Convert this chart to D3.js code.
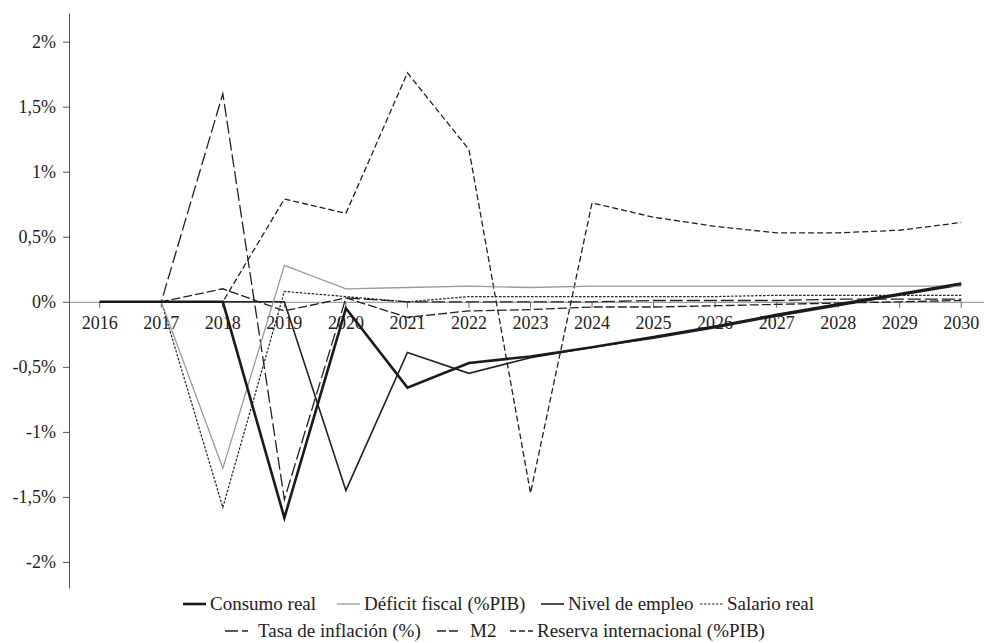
<!DOCTYPE html>
<html>
<head>
<meta charset="utf-8">
<script src="https://cdn.jsdelivr.net/npm/d3@7"></script>
<style>
    body { margin: 0; background: #fff; }
    svg { display: block; font-family: "Liberation Serif", "DejaVu Serif", serif; }
</style>
</head>
<body>
<svg id="chart" width="984" height="643"></svg>
<script>
// years on the category axis
var years = ['2016', '2017', '2018', '2019', '2020', '2021', '2022', '2023',
    '2024', '2025', '2026', '2027', '2028', '2029', '2030'];

// series values, in %
var consumoReal = [0, 0, 0, -1.66, -0.05, -0.66, -0.47, -0.42, -0.35, -0.27, -0.19, -0.10, -0.02, 0.06, 0.14];
var deficitFiscal = [0, 0, -1.28, 0.28, 0.10, 0.11, 0.12, 0.11, 0.12, 0.12, 0.12, 0.12, 0.12, 0.12, 0.12];
var nivelEmpleo = [0, 0, 0, 0, -1.45, -0.39, -0.55, -0.43, -0.35, -0.28, -0.20, -0.11, -0.03, 0.05, 0.13];
var salarioReal = [0, 0, -1.58, 0.08, 0.04, 0.0, 0.04, 0.04, 0.04, 0.04, 0.04, 0.05, 0.05, 0.05, 0.05];
var tasaInflacion = [0, 0, 1.60, -1.52, 0.03, 0.0, 0.0, 0.0, 0.0, 0.01, 0.01, 0.01, 0.02, 0.02, 0.02];
var m2 = [0, 0, 0.10, -0.07, 0.03, -0.12, -0.07, -0.06, -0.04, -0.04, -0.03, -0.02, -0.01, 0.0, 0.01];
var reservaInternacional = [0, 0, 0, 0.79, 0.68, 1.76, 1.17, -1.47, 0.76, 0.65, 0.58, 0.53, 0.53, 0.55, 0.61];

var yTicks = [-2, -1.5, -1, -0.5, 0, 0.5, 1, 1.5, 2];

var series = [
    { name: 'Consumo real', values: consumoReal, color: '#1a1a1a', width: 2.6, dash: null, row: 0, lx: 183 },
    { name: 'Déficit fiscal (%PIB)', values: deficitFiscal, color: '#9a9a9a', width: 1.3, dash: null, row: 0, lx: 337 },
    { name: 'Nivel de empleo', values: nivelEmpleo, color: '#222', width: 1.6, dash: null, row: 0, lx: 541 },
    { name: 'Salario real', values: salarioReal, color: '#222', width: 1.2, dash: '2.5,1.5', row: 0, lx: 700 },
    { name: 'Tasa de inflación (%)', values: tasaInflacion, color: '#222', width: 1.3, dash: '13,4', row: 1, lx: 225 },
    { name: 'M2', values: m2, color: '#222', width: 1.3, dash: '9,3', row: 1, lx: 437 },
    { name: 'Reserva internacional (%PIB)', values: reservaInternacional, color: '#222', width: 1.3, dash: '6,3', row: 1, lx: 510 }
];

var serif = '"Liberation Serif", "DejaVu Serif", serif';
var svg = d3.select('#chart');

var x = d3.scaleBand()
    .domain(years)
    .range([69, 992])
    .padding(0);

var y = d3.scaleLinear()
    .domain([-2.2, 2.22])
    .range([588, 13]);

var fmt = function (v) { return String(v).replace('.', ',') + '%'; };

// y axis
var yAxis = svg.append('g')
    .attr('transform', 'translate(69,0)')
    .call(d3.axisLeft(y).tickValues(yTicks).tickSize(6).tickSizeOuter(0).tickPadding(7).tickFormat(fmt));
yAxis.attr('font-family', serif);
yAxis.select('.domain').attr('stroke', '#555');
yAxis.selectAll('.tick line').attr('stroke', '#555');
yAxis.selectAll('.tick text')
    .attr('font-size', 18)
    .attr('fill', '#222');

// x axis at zero
var xAxis = svg.append('g')
    .attr('transform', `translate(0,${y(0)})`)
    .call(d3.axisBottom(x).tickSize(6).tickSizeOuter(0).tickPadding(8));
xAxis.attr('font-family', serif);
xAxis.select('.domain').attr('stroke', '#8a8a8a');
xAxis.selectAll('.tick line').attr('stroke', '#666');
xAxis.selectAll('.tick text')
    .attr('font-size', 18)
    .attr('fill', '#222');

var line = d3.line()
    .x(function (d, i) { return x(years[i]) + x.bandwidth() / 2; })
    .y(function (d) { return y(d); });

// draw in reverse so the first series sit on top
svg.append('g')
    .selectAll('path')
    .data(series.slice().reverse())
    .join('path')
    .attr('d', function (d) { return line(d.values); })
    .attr('fill', 'none')
    .attr('stroke', function (d) { return d.color; })
    .attr('stroke-width', function (d) { return d.width; })
    .attr('stroke-dasharray', function (d) { return d.dash; })
    .attr('stroke-miterlimit', 10);

// legend
var rowY = [604, 631];
var legend = svg.append('g')
    .attr('font-family', serif)
    .selectAll('g')
    .data(series)
    .join('g')
    .attr('transform', function (d) { return `translate(${d.lx},${rowY[d.row]})`; });

legend.append('line')
    .attr('x1', 0)
    .attr('x2', 23)
    .attr('stroke', function (d) { return d.color; })
    .attr('stroke-width', function (d) { return d.width; })
    .attr('stroke-dasharray', function (d) { return d.dash; });

legend.append('text')
    .attr('x', function (d) { return d.row === 1 && d.name !== 'Reserva internacional (%PIB)' ? 33 : 27; })
    .attr('dy', '0.33em')
    .attr('font-size', 19)
    .attr('font-family', serif)
    .attr('fill', '#222')
    .text(function (d) { return d.name; });
</script>
</body>
</html>
